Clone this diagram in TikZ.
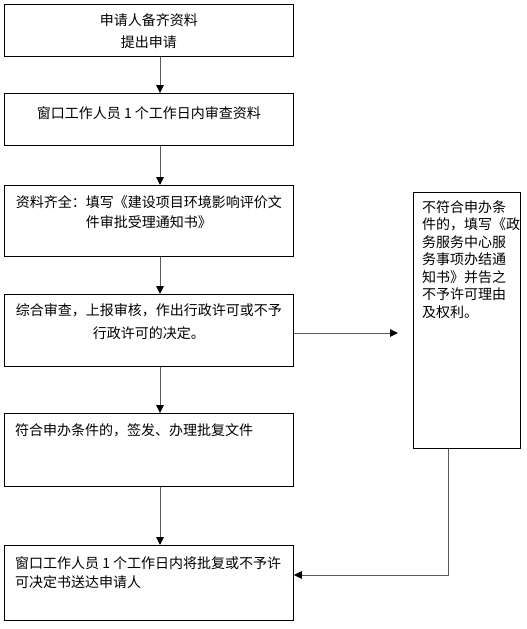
\documentclass[tikz,border=0pt]{standalone}
\usepackage{fontspec}
\setmainfont{Noto Sans CJK SC}
\usetikzlibrary{arrows.meta,positioning}
\tikzset{
  >={Triangle[length=8pt,width=7.5pt,color=black]},
  every node/.style={font=\fontsize{14}{22}\selectfont},
  stepbox/.style={draw, line width=0.8pt, minimum width=289, anchor=north west, inner sep=0pt},
  txt/.style={inner sep=0pt, align=center},
  ltxt/.style={inner sep=0pt, align=left},
  flow/.style={->, draw=black!65, line width=1pt},
}

\begin{document}
\begin{tikzpicture}[x=1pt,y=-1pt]
\useasboundingbox (0,0) rectangle (527,629);

% main column
\node[stepbox, minimum height=52] (apply) at (4,4) {};
\node[stepbox, minimum height=52] (review) at (4,93) {};
\node[stepbox, minimum height=71] (accept) at (4,185) {};
\node[stepbox, minimum height=72] (check) at (4,294) {};
\node[stepbox, minimum height=73] (grant) at (4,413) {};
\node[stepbox, minimum height=75] (deliver) at (4,545) {};
% refusal branch
\node[stepbox, minimum width=107, minimum height=256] (refuse) at (413,192) {};

\node[txt, below=9pt of apply.north] (applyt) {申请人备齐资料\\提出申请};
\node[txt, below=13pt of review.north] (reviewt) {窗口工作人员 1 个工作日内审查资料};
\node[txt, below=10pt of accept.north, font=\fontsize{14}{20}\selectfont] (acceptt) {资料齐全：填写《建设项目环境影响评价文\\件审批受理通知书》};
\node[txt, below=9pt of check.north, font=\fontsize{14}{23}\selectfont] (checkt) {综合审查，上报审核，作出行政许可或不予\\行政许可的决定。};
\node[ltxt, below right=10pt and 11pt of grant.north west] (grantt) {符合申办条件的，签发、办理批复文件};
\node[ltxt, below right=11pt and 11pt of deliver.north west, font=\fontsize{14}{19}\selectfont] (delivert) {窗口工作人员 1 个工作日内将批复或不予许\\可决定书送达申请人};
\node[ltxt, below right=8pt and 9pt of refuse.north west, font=\fontsize{14}{17.5}\selectfont] (refuset) {不符合申办条\\件的，填写《政\\务服务中心服\\务事项办结通\\知书》并告之\\不予许可理由\\及权利。};

\coordinate (spine) at (160,0);
\coordinate (gap) at (398,333);
\coordinate (ret) at (448,575);

\draw[flow] (apply.south -| spine) -- (review.north -| spine);
\draw[flow] (review.south -| spine) -- (accept.north -| spine);
\draw[flow] (accept.south -| spine) -- (check.north -| spine);
\draw[flow] (check.south -| spine) -- (grant.north -| spine);
\draw[flow] (grant.south -| spine) -- (deliver.north -| spine);
\draw[flow] (check.east |- gap) -- (gap);
\draw[flow] (refuse.south -| ret) |- (deliver.east |- ret);

\end{tikzpicture}
\end{document}
